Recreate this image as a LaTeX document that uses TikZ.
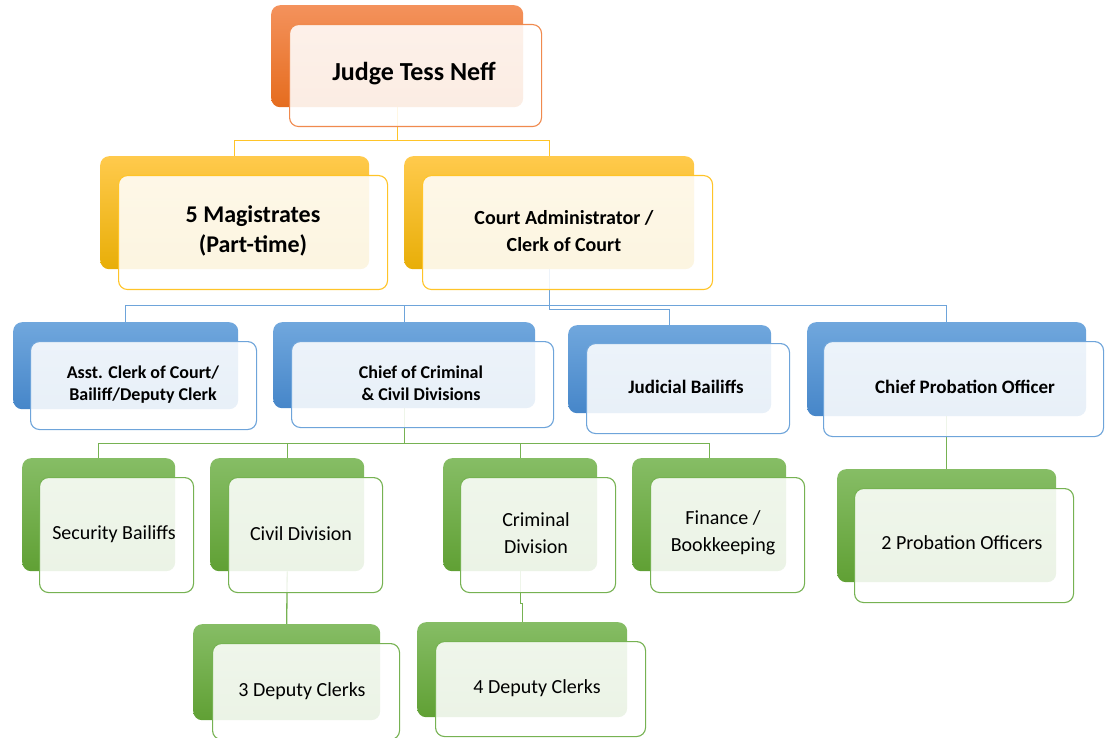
\documentclass[tikz,border=0pt]{standalone}
\usepackage{fontspec}
\setmainfont{Carlito}
\pgfdeclarelayer{bg}
\pgfsetlayers{bg,main}

% palette
\definecolor{orTop}{RGB}{244,146,92}
\definecolor{orBot}{RGB}{229,108,30}
\definecolor{orLine}{RGB}{240,138,78}
\definecolor{ylTop}{RGB}{255,202,76}
\definecolor{ylBot}{RGB}{232,174,8}
\definecolor{ylLine}{RGB}{255,196,40}
\definecolor{blTop}{RGB}{112,167,221}
\definecolor{blBot}{RGB}{70,134,201}
\definecolor{blLine}{RGB}{110,164,218}
\definecolor{grTop}{RGB}{134,189,101}
\definecolor{grBot}{RGB}{96,160,52}
\definecolor{grLine}{RGB}{118,178,82}

\tikzset{
  x=1pt, y=-1pt,
  back/.style 2 args={rectangle, rounded corners=9, draw=none, anchor=north west,
    top color=#1, bottom color=#2, inner sep=0pt},
  front/.style={rectangle, rounded corners=9, draw=#1, line width=1.1pt,
    fill=white, fill opacity=0.88, anchor=north west, inner sep=0pt},
  lbl/.style={align=center, inner sep=0pt, text=black},
  bigB/.style={lbl, font=\bfseries\fontsize{26}{30}\selectfont},
  midB/.style={lbl, font=\bfseries\fontsize{24}{30}\selectfont},
  secB/.style={lbl, font=\bfseries\fontsize{20}{27}\selectfont},
  smlB/.style={lbl, font=\bfseries\fontsize{18}{22}\selectfont},
  thrB/.style={lbl, font=\bfseries\fontsize{19}{23}\selectfont},
  reg/.style={lbl, font=\fontsize{20}{27}\selectfont},
  link/.style={line width=1.3pt, draw=#1},
}

\begin{document}
\begin{tikzpicture}
\useasboundingbox (0,0) rectangle (1109,738);

% ---- top: judge ----
\node[back={orTop}{orBot}, minimum width=252, minimum height=102] (judgeB) at (271,5) {};
\node[front=orLine, minimum width=252, minimum height=102] (judgeF) at (289,24) {};
\node[bigB] (judgeT) at (414,74) {Judge Tess Neff};

% ---- second row ----
\node[back={ylTop}{ylBot}, minimum width=269, minimum height=113] (magB) at (100,156) {};
\node[front=ylLine, minimum width=269, minimum height=114] (magF) at (118,175) {};
\node[midB] (magT) at (253,231) {5 Magistrates\\(Part-time)};

\node[back={ylTop}{ylBot}, minimum width=290, minimum height=113] (admB) at (404,156) {};
\node[front=ylLine, minimum width=290, minimum height=114] (admF) at (422,175) {};
\node[secB] (admT) at (564,231) {Court Administrator /\\Clerk of Court};

% ---- third row ----
\node[back={blTop}{blBot}, minimum width=225, minimum height=87] (asstB) at (13,322) {};
\node[front=blLine, minimum width=226, minimum height=88] (asstF) at (30,341) {};
\node[smlB] (asstT) at (143,385) {Asst. Clerk of Court/\\Bailiff/Deputy Clerk};

\node[back={blTop}{blBot}, minimum width=262, minimum height=86] (chiefB) at (273,322) {};
\node[front=blLine, minimum width=262, minimum height=86] (chiefF) at (291,341) {};
\node[smlB] (chiefT) at (421,383) {Chief of Criminal\\\& Civil Divisions};

\node[back={blTop}{blBot}, minimum width=203, minimum height=88] (judB) at (568,325) {};
\node[front=blLine, minimum width=203, minimum height=90] (judF) at (586,343) {};
\node[thrB] (judT) at (686,387) {Judicial Bailiffs};

\node[back={blTop}{blBot}, minimum width=279, minimum height=94] (cpoB) at (807,322) {};
\node[front=blLine, minimum width=280, minimum height=95] (cpoF) at (823,341) {};
\node[thrB] (cpoT) at (965,387) {Chief Probation Officer};

% ---- fourth row ----
\node[back={grTop}{grBot}, minimum width=153, minimum height=113] (secB) at (22,458) {};
\node[front=grLine, minimum width=154, minimum height=115] (secF) at (39,477) {};
\node[reg] (secT) at (114,534) {Security Bailiffs};

\node[back={grTop}{grBot}, minimum width=154, minimum height=113] (civB) at (210,458) {};
\node[front=grLine, minimum width=154, minimum height=115] (civF) at (228,477) {};
\node[reg] (civT) at (301,534) {Civil Division};

\node[back={grTop}{grBot}, minimum width=154, minimum height=113] (crimB) at (443,458) {};
\node[front=grLine, minimum width=155, minimum height=115] (crimF) at (460,477) {};
\node[reg] (crimT) at (536,533) {Criminal\\Division};

\node[back={grTop}{grBot}, minimum width=154, minimum height=113] (finB) at (632,458) {};
\node[front=grLine, minimum width=154, minimum height=115] (finF) at (650,477) {};
\node[reg] (finT) at (723,533) {Finance /\\Bookkeeping};

\node[back={grTop}{grBot}, minimum width=219, minimum height=113] (poB) at (837,469) {};
\node[front=grLine, minimum width=219, minimum height=114] (poF) at (854,488) {};
\node[reg] (poT) at (962,543) {2 Probation Officers};

% ---- fifth row ----
\node[back={grTop}{grBot}, minimum width=187, minimum height=96] (dc3B) at (193,624) {};
\node[front=grLine, minimum width=187, minimum height=96] (dc3F) at (212,643) {};
\node[reg] (dc3T) at (302,691) {3 Deputy Clerks};

\node[back={grTop}{grBot}, minimum width=210, minimum height=95] (dc4B) at (417,622) {};
\node[front=grLine, minimum width=210, minimum height=95] (dc4F) at (435,641) {};
\node[reg] (dc4T) at (537,688) {4 Deputy Clerks};

% ---- connectors, behind the boxes ----
\begin{pgfonlayer}{bg}
  \draw[link=ylLine] (judgeB.south) -- ++(0,33) -| (magB.north);
  \draw[link=ylLine] (judgeB.south) -- ++(0,33) -| (admB.north);

  \draw[link=blLine] (admB.south) -- ++(0,36) -| (asstB.north);
  \draw[link=blLine] (admB.south) -- ++(0,36) -| (chiefB.north);
  \draw[link=blLine] (admB.south) -- ++(0,36) -| (cpoB.north);
  \draw[link=blLine] (admB.south) -- ++(0,40) -| (judB.north);

  \draw[link=grLine] (chiefB.south) -- ++(0,35) -| (secB.north);
  \draw[link=grLine] (chiefB.south) -- ++(0,35) -| (civB.north);
  \draw[link=grLine] (chiefB.south) -- ++(0,35) -| (crimB.north);
  \draw[link=grLine] (chiefB.south) -- ++(0,35) -| (finB.north);

  \draw[link=grLine] (civB.south) -- (dc3B.north);
  \draw[link=grLine] (crimB.south) -- ++(0,32) -| (dc4B.north);
  \draw[link=grLine] (cpoB.south) -- (poB.north);
\end{pgfonlayer}
\end{tikzpicture}
\end{document}
